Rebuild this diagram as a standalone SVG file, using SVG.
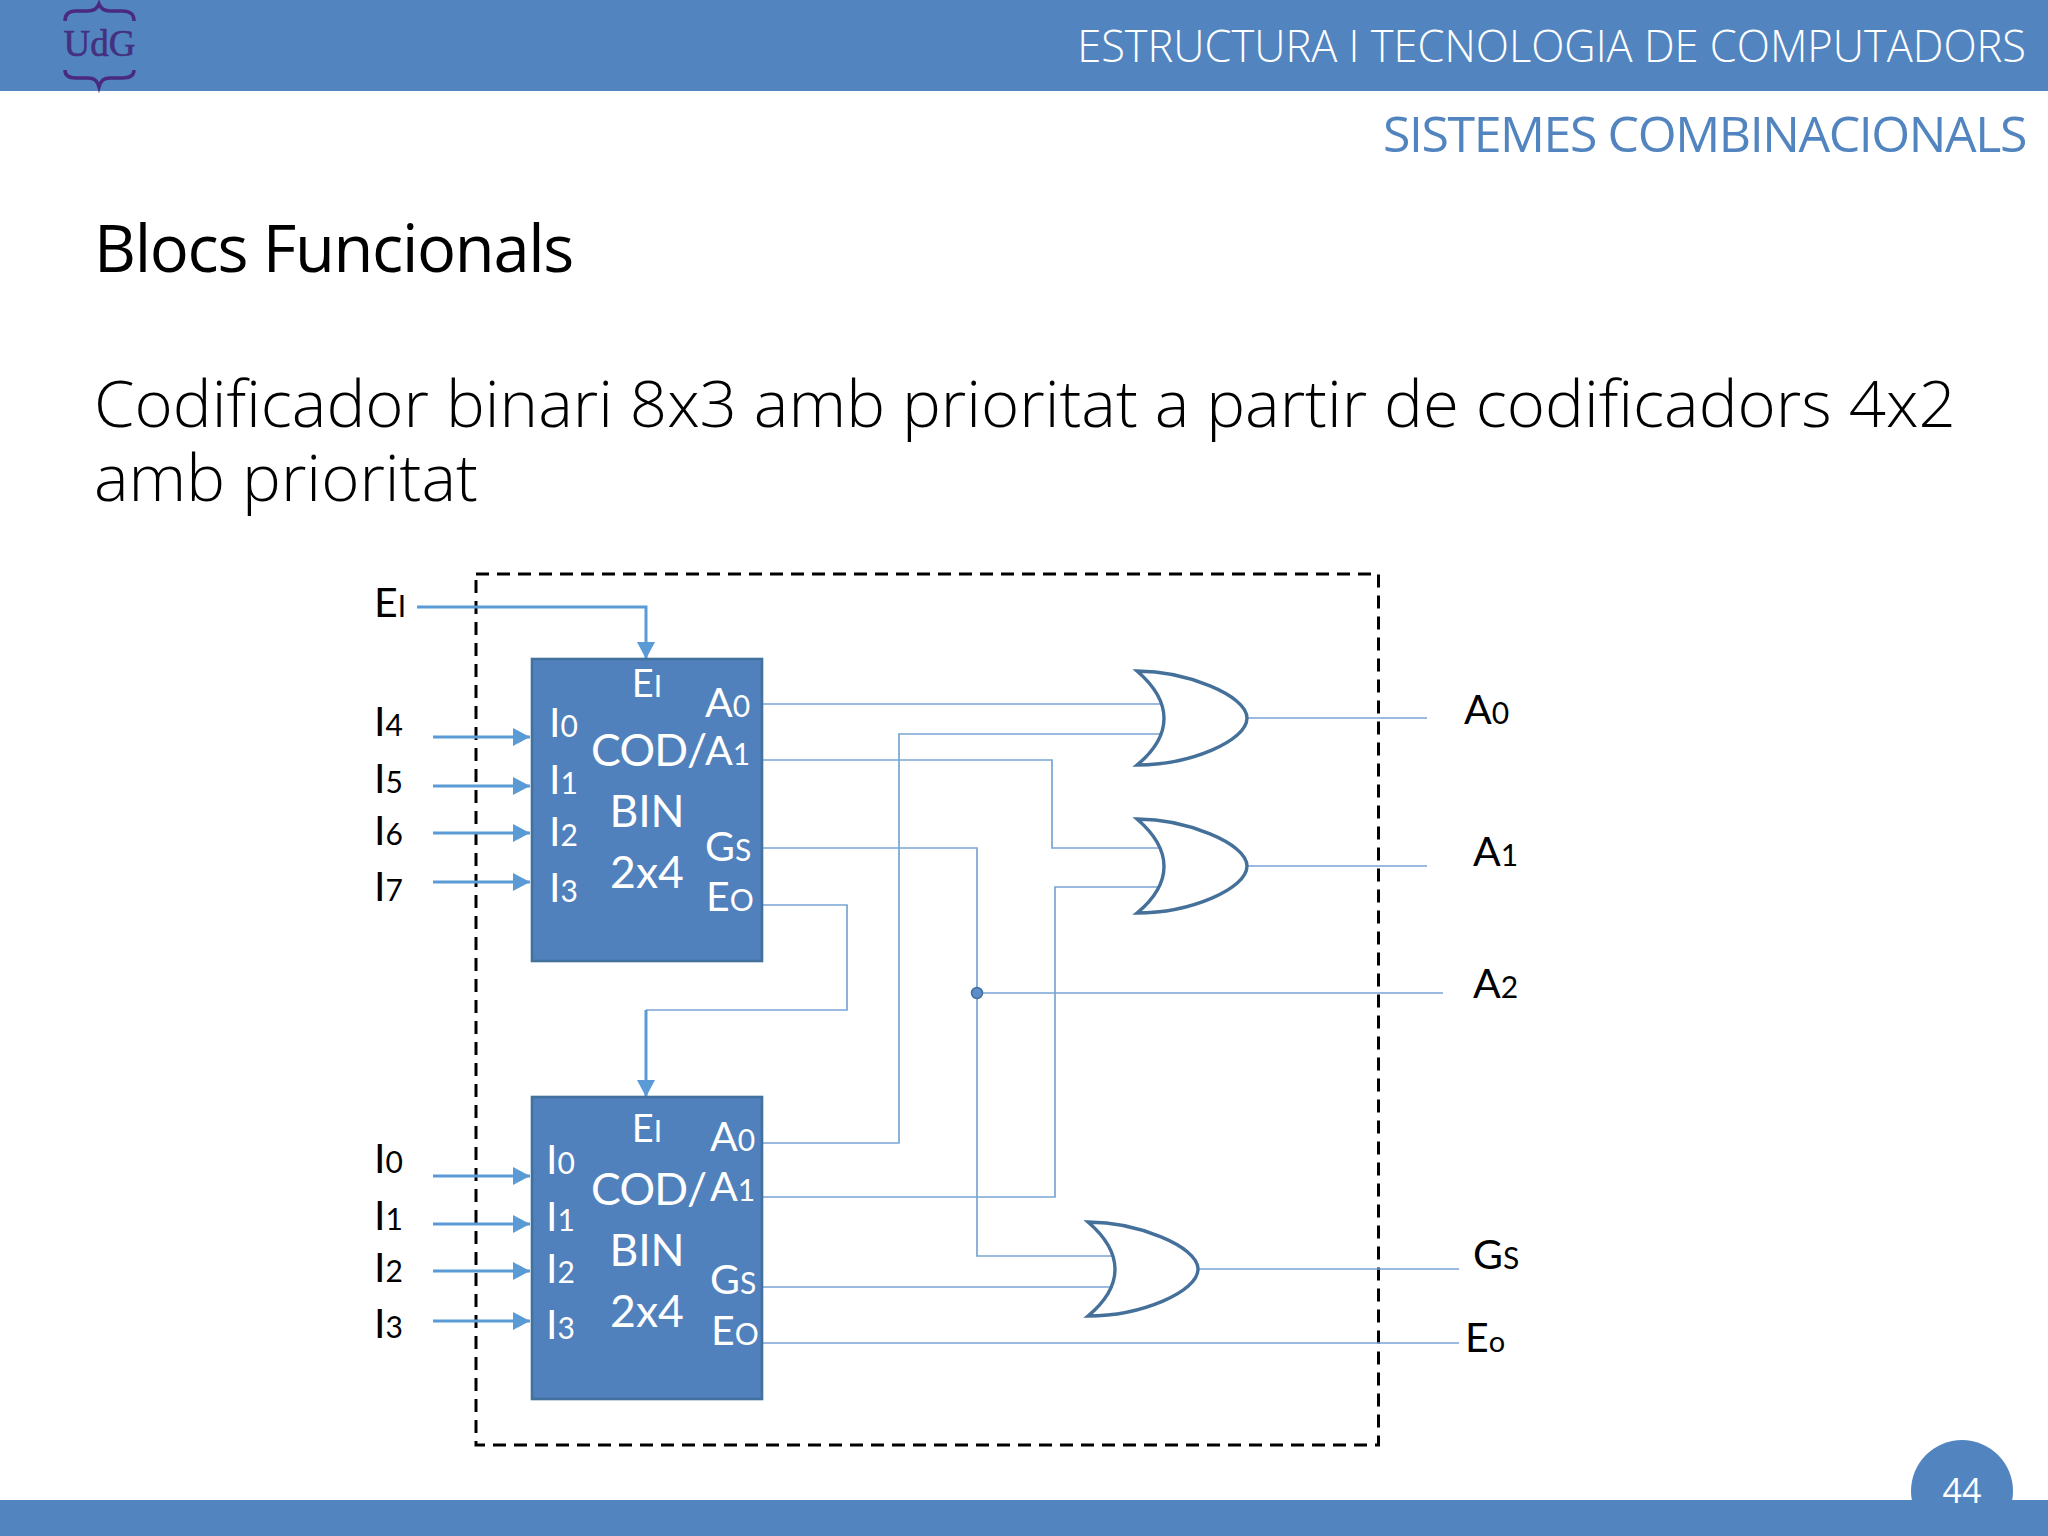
<svg xmlns="http://www.w3.org/2000/svg" width="2048" height="1536" viewBox="0 0 2048 1536">
<defs>
<style>
.band{fill:#5285bf}
.lt{font-family:"Open Sans","Noto Sans",sans-serif;font-weight:300}
.lb{font-family:"Lato","Open Sans",sans-serif;font-size:41px;fill:#000}
.in{font-family:"Lato","Open Sans",sans-serif;font-size:41px;fill:#fff}
.big{font-size:44.500px}
.cod{letter-spacing:-0.700px}
.sub{font-size:30px}
.subo{font-size:29px}
.mid{text-anchor:middle}
.w{fill:none;stroke:#79a5d4;stroke-width:1.700}
.a{fill:none;stroke:#5b9bd5;stroke-width:3;marker-end:url(#ah)}
.br{fill:none;stroke:#4a2a80;stroke-width:3.500}
.box{fill:#5081bd;stroke:#41719c;stroke-width:2.600}
.gate{fill:#fff;stroke:#44709a;stroke-width:3.400;stroke-linejoin:miter}
</style>
<marker id="ah" markerUnits="userSpaceOnUse" markerWidth="18" markerHeight="18" refX="17" refY="9" orient="auto"><path d="M0 0L17 9L0 18Z" fill="#5b9bd5"/></marker>
<path id="orgate" d="M1137 671C1185 671 1247 695 1247 718C1247 741 1190 765 1137 765C1173 735 1173 702 1137 671Z"/>
</defs>
<rect class="band" x="0" y="0" width="2048" height="91"/>
<rect class="band" x="0" y="1500" width="2048" height="36"/>
<circle class="band" cx="1962" cy="1491" r="51"/>
<text id="page" class="lt mid" x="1962" y="1503" font-size="34" style="font-weight:400" fill="#fff">44</text>
<g id="logo">
<path class="br" d="M65 21C65 13 70 11 76 11H88C94 11 97 9 99 4C101 9 104 11 110 11H122C129 11 134 13 134 21"/>
<path class="br" d="M65 70C65 76 70 78 76 78H88C94 78 97 80 99 87C101 80 104 78 110 78H122C129 78 134 76 134 70"/>
<text x="99.500" y="56" font-family="Liberation Serif,serif" font-size="37" text-anchor="middle" fill="#44307f" stroke="#44307f" stroke-width="0.600">UdG</text>
</g>
<text id="course" class="lt" x="2026" y="62" text-anchor="end" font-size="43.400" fill="#fff">ESTRUCTURA I TECNOLOGIA DE COMPUTADORS</text>
<text id="chapter" class="lt" x="2026" y="152" text-anchor="end" font-size="50" letter-spacing="-1.400" style="font-weight:400" fill="#5285bf">SISTEMES COMBINACIONALS</text>
<text id="title" class="lt" x="94" y="272" font-size="65" letter-spacing="-1.300" style="font-weight:400" fill="#000">Blocs Funcionals</text>
<text id="sub1" class="lt" x="94" y="427" font-size="65.300" fill="#000">Codificador binari 8x3 amb prioritat a partir de codificadors 4x2</text>
<text id="sub2" class="lt" x="94" y="501" font-size="65.300" fill="#000">amb prioritat</text>

<g id="boundary"><rect x="476" y="574" width="902.500" height="871" fill="none" stroke="#000" stroke-width="3" stroke-dasharray="13 8"/></g>

<g id="connectors">
<path class="a" d="M417 607H646V659"/>
<path class="a" d="M433 737H530"/><path class="a" d="M433 786H530"/><path class="a" d="M433 833H530"/><path class="a" d="M433 882H530"/>
<path class="a" d="M433 1176H530"/><path class="a" d="M433 1224H530"/><path class="a" d="M433 1271H530"/><path class="a" d="M433 1321H530"/>
<path class="w" d="M762 704H1160"/>
<path class="w" d="M762 760H1052V848H1160"/>
<path class="w" d="M762 848H977V1256H1113"/>
<path class="w" d="M762 905H847V1010H646"/>
<path class="a" d="M646 1010V1097"/>
<path class="w" d="M762 1143H899V734H1160"/>
<path class="w" d="M762 1197H1055V887H1160"/>
<path class="w" d="M977 993H1443"/>
<path class="w" d="M762 1287H1113"/>
<path class="w" d="M762 1343H1459"/>
<path class="w" d="M1247 718H1427"/>
<path class="w" d="M1247 866H1427"/>
<path class="w" d="M1198 1269H1459"/>
<circle cx="977" cy="993" r="5.500" fill="#5b8ec9" stroke="#41719c" stroke-width="1.500"/>
</g>

<g id="gate-a0"><use href="#orgate" class="gate"/></g>
<g id="gate-a1"><use href="#orgate" class="gate" y="148"/></g>
<g id="gate-gs"><use href="#orgate" class="gate" x="-49" y="551"/></g>

<g id="cod-top">
<rect class="box" x="532" y="659" width="230" height="302"/>
<text class="in mid" x="647" y="697" style="font-size:38px">E<tspan class="sub">I</tspan></text>
<text class="in" x="549" y="737">I<tspan class="sub">0</tspan></text>
<text class="in" x="549" y="794">I<tspan class="sub">1</tspan></text>
<text class="in" x="549" y="846">I<tspan class="sub">2</tspan></text>
<text class="in" x="549" y="902">I<tspan class="sub">3</tspan></text>
<text class="in big cod" x="591" y="766">COD/</text>
<text class="in big mid" x="647" y="827">BIN</text>
<text class="in big mid" x="647" y="888">2x4</text>
<text class="in" x="705" y="717">A<tspan class="sub">0</tspan></text>
<text class="in" x="705" y="765">A<tspan class="sub">1</tspan></text>
<text class="in" x="705" y="861">G<tspan class="sub">S</tspan></text>
<text class="in" x="706" y="911">E<tspan class="sub">O</tspan></text>
</g>
<g id="cod-bottom">
<rect class="box" x="532" y="1097" width="230" height="302"/>
<text class="in mid" x="647" y="1142" style="font-size:38px">E<tspan class="sub">I</tspan></text>
<text class="in" x="546" y="1174">I<tspan class="sub">0</tspan></text>
<text class="in" x="546" y="1231">I<tspan class="sub">1</tspan></text>
<text class="in" x="546" y="1283">I<tspan class="sub">2</tspan></text>
<text class="in" x="546" y="1339">I<tspan class="sub">3</tspan></text>
<text class="in big cod" x="591" y="1205">COD/</text>
<text class="in big mid" x="647" y="1266">BIN</text>
<text class="in big mid" x="647" y="1327">2x4</text>
<text class="in" x="710" y="1151">A<tspan class="sub">0</tspan></text>
<text class="in" x="710" y="1201">A<tspan class="sub">1</tspan></text>
<text class="in" x="710" y="1294">G<tspan class="sub">S</tspan></text>
<text class="in" x="711" y="1345">E<tspan class="sub">O</tspan></text>
</g>
<g id="labels">
<text class="lb" x="374" y="617">E<tspan class="sub">I</tspan></text>
<text class="lb" x="374" y="736">I<tspan class="sub">4</tspan></text>
<text class="lb" x="374" y="793">I<tspan class="sub">5</tspan></text>
<text class="lb" x="374" y="845">I<tspan class="sub">6</tspan></text>
<text class="lb" x="374" y="901">I<tspan class="sub">7</tspan></text>
<text class="lb" x="374" y="1173">I<tspan class="sub">0</tspan></text>
<text class="lb" x="374" y="1230">I<tspan class="sub">1</tspan></text>
<text class="lb" x="374" y="1282">I<tspan class="sub">2</tspan></text>
<text class="lb" x="374" y="1338">I<tspan class="sub">3</tspan></text>
<text class="lb" x="1464" y="724">A<tspan class="sub">0</tspan></text>
<text class="lb" x="1473" y="866">A<tspan class="sub">1</tspan></text>
<text class="lb" x="1473" y="998">A<tspan class="sub">2</tspan></text>
<text class="lb" x="1473" y="1269">G<tspan class="sub">S</tspan></text>
<text class="lb" x="1465" y="1352">E<tspan class="subo">o</tspan></text>
</g>
</svg>
